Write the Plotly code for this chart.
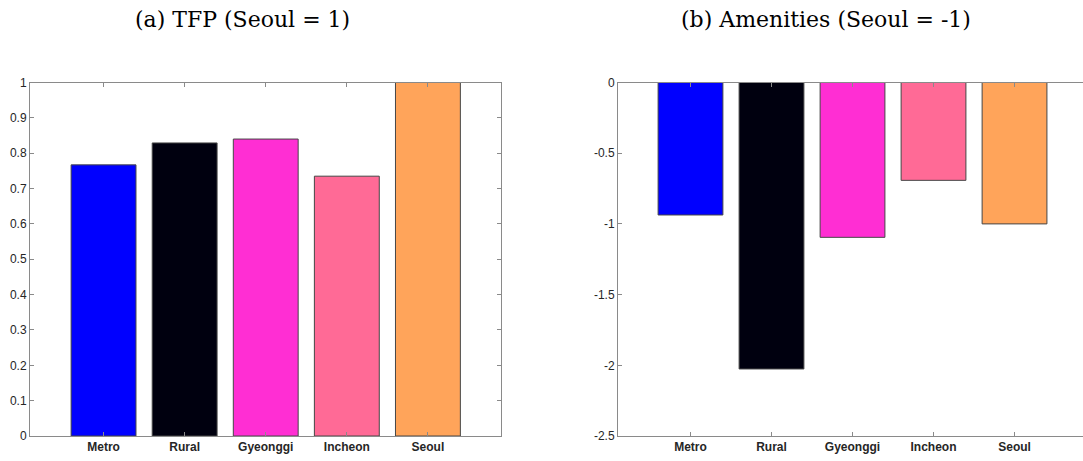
import plotly.graph_objects as go

# Regions and model outputs
regions = ["Metro", "Rural", "Gyeonggi", "Incheon", "Seoul"]
tfp = [0.767, 0.829, 0.840, 0.735, 1.0]
amenities = [-0.937, -2.026, -1.095, -0.692, -1.0]
bar_colors = ["#0000FF", "#00000F", "#FF2ED3", "#FF6A96", "#FFA45A"]

tfp_ticks = [0, 0.1, 0.2, 0.3, 0.4, 0.5, 0.6, 0.7, 0.8, 0.9, 1]
tfp_ticktext = ["0", "0.1", "0.2", "0.3", "0.4", "0.5", "0.6", "0.7", "0.8", "0.9", "1"]
amen_ticks = [0, -0.5, -1, -1.5, -2, -2.5]
amen_ticktext = ["0", "-0.5", "-1", "-1.5", "-2", "-2.5"]

# The figure is a bit wider than the page; the right panel runs off the edge.
W, H = 1088, 461
edge = "rgba(70,70,70,1)"
axis_col = "#8a8a8a"
tick_font = dict(family="Liberation Sans, Arial, sans-serif", size=12, color="#262626")
xtick_font = dict(family="Liberation Sans, Arial, sans-serif", size=12, color="#262626")
title_font = dict(family="DejaVu Serif, Liberation Serif, serif", size=22, color="black")

fig = go.Figure()
fig.add_trace(go.Bar(x=regions, y=tfp, width=0.8,
                     marker=dict(color=bar_colors, line=dict(color=edge, width=1)),
                     xaxis="x", yaxis="y", showlegend=False))
fig.add_trace(go.Bar(x=regions, y=amenities, width=0.8,
                     marker=dict(color=bar_colors, line=dict(color=edge, width=1)),
                     xaxis="x2", yaxis="y2", showlegend=False))

y_dom = [25 / H, 378.5 / H]
common_x = dict(type="category", showline=True, linecolor=axis_col, linewidth=1,
                ticks="inside", ticklen=4, tickcolor=axis_col, mirror="ticks",
                showgrid=False, zeroline=False, tickfont=xtick_font, automargin=False,
                tickprefix="<b>", ticksuffix="</b>")
common_y = dict(showline=True, linecolor=axis_col, linewidth=1,
                ticks="inside", ticklen=4, tickcolor=axis_col, automargin=False,
                showgrid=False, zeroline=False, tickfont=tick_font)

fig.update_layout(
    width=W, height=H,
    margin=dict(l=0, r=0, t=0, b=0),
    paper_bgcolor="white", plot_bgcolor="white",
    bargap=0.2,
    xaxis=dict(common_x, domain=[30 / W, 500.5 / W], range=[-0.907, 4.895], anchor="y"),
    yaxis=dict(common_y, domain=y_dom, range=[0, 1], tickvals=tfp_ticks,
               ticktext=tfp_ticktext, mirror="ticks", anchor="x"),
    xaxis2=dict(common_x, domain=[618 / W, 1.0], range=[-0.895, 4.907], anchor="y2"),
    yaxis2=dict(common_y, domain=y_dom, range=[-2.5, 0], tickvals=amen_ticks,
                ticktext=amen_ticktext, mirror="ticks", anchor="x2"),
    annotations=[
        dict(text="(a) TFP (Seoul = 1)", x=242 / W, y=1 - 19 / H, xref="paper", yref="paper",
             showarrow=False, xanchor="center", yanchor="middle", font=title_font),
        dict(text="(b) Amenities (Seoul = -1)", x=826 / W, y=1 - 19 / H, xref="paper", yref="paper",
             showarrow=False, xanchor="center", yanchor="middle", font=title_font),
    ],
)

fig.write_html(
    "out.html",
    config=dict(displayModeBar=False),
    post_script="document.documentElement.style.overflow='hidden';"
                "document.body.style.overflow='hidden';",
)
